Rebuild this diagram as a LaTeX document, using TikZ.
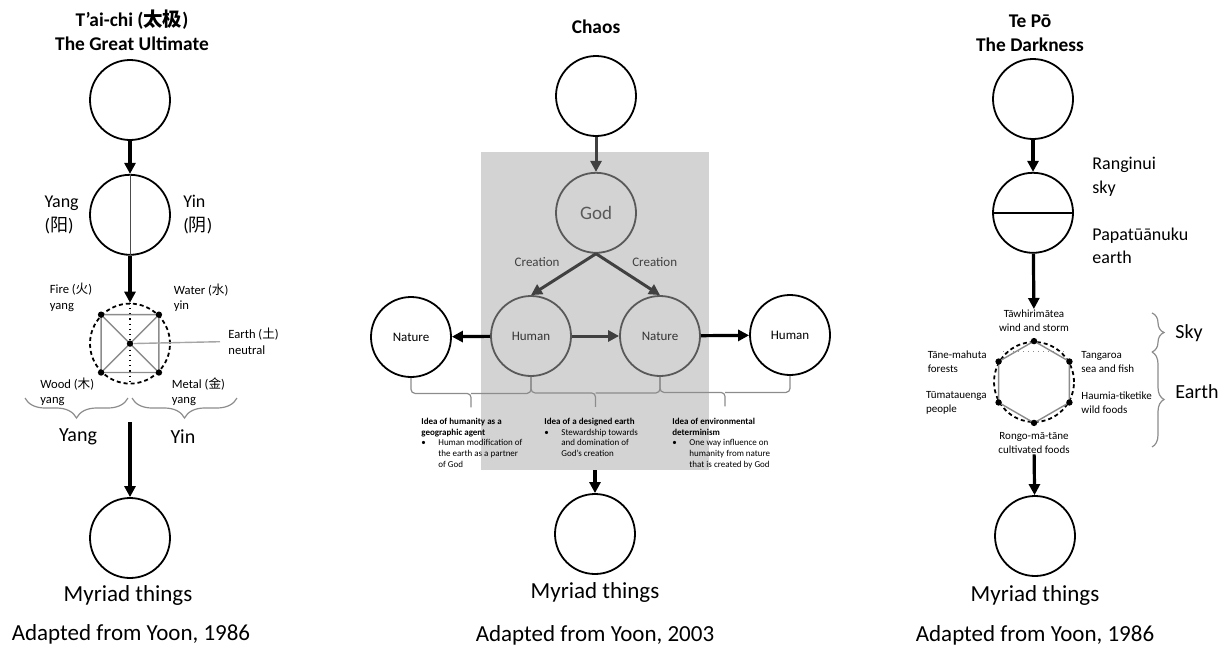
\documentclass[tikz,border=0pt]{standalone}
\usepackage{fontspec}
\setmainfont{Carlito}
\newfontfamily\cjk{Noto Sans CJK SC}
\usetikzlibrary{arrows.meta, positioning, calc, decorations.pathreplacing}
\definecolor{boxgray}{HTML}{D3D3D3}
\definecolor{inkgray}{HTML}{595959}
\definecolor{arrgray}{HTML}{404040}
\definecolor{linegray}{HTML}{8C8C8C}

\begin{document}
\begin{tikzpicture}[
  x=0.5pt, y=-0.5pt,
  blob/.style={circle, draw, line width=0.9pt, minimum size=40pt, inner sep=0pt,
    font=\fontsize{6.5}{8}\selectfont},
  godblob/.style={blob, draw=inkgray, fill=boxgray, text=black!80},
  arr/.style={-{Triangle[length=5.5pt,width=5.5pt]}, line width=1.6pt},
  garr/.style={arr, draw=arrgray, line width=1.5pt},
  dot/.style={circle, fill=black, inner sep=0pt, minimum size=3.2pt},
  ttl/.style={font=\fontsize{9.7}{12}\selectfont\bfseries, align=center, inner sep=0pt},
  lbl/.style={font=\fontsize{9}{11.8}\selectfont, align=left, inner sep=0pt},
  bigtxt/.style={font=\fontsize{11.5}{14}\selectfont, inner sep=0pt},
  elbl/.style={font=\fontsize{6.3}{7.8}\selectfont, align=left, inner sep=0pt},
  hlbl/.style={font=\fontsize{5.5}{7}\selectfont, align=left, inner sep=0pt},
  clbl/.style={font=\fontsize{6.5}{8}\selectfont, text=arrgray, inner sep=0pt},
  idea/.style={font=\fontsize{4.5}{5.3}\selectfont, align=left, inner sep=0pt, anchor=north west},
  arm/.style={draw=linegray, line width=0.6pt, rounded corners=2pt},
  brc/.style={draw=linegray, line width=0.6pt, decorate, decoration={brace, amplitude=#1}},
  brc/.default=6pt,
  mbrc/.style={draw=linegray, line width=0.6pt, decorate, decoration={brace, mirror, amplitude=10pt}}
]
\useasboundingbox (0,0) rectangle (1224,648);

% --- T'ai-chi ---
\node[ttl] (ttlL) at (132,30) {T’ai-chi ({\cjk 太极})\\The Great Ultimate};
\node[blob] (tc0) at (130,100) {};
\node[blob, below=16.5pt of tc0] (tc1) {};
\draw[line width=0.4pt, black!70] (tc1.north) -- (tc1.south);
\node[lbl, left=5pt of tc1] (yang) {Yang\\({\cjk 阳})};
\node[lbl, right=6pt of tc1] (yin) {Yin\\({\cjk 阴})};
\draw[arr] (tc0) -- (tc1);

\node[blob, dash pattern=on 2pt off 1.5pt, below=23.5pt of tc1] (wx) {};
\draw[arr] (tc1) -- (wx);
\draw[dotted, line width=0.6pt] (wx.north) -- (wx.south);
% square and diagonals first, dots on top
\draw[linegray, line width=0.7pt] (wx.135) -- (wx.45) -- (wx.315) -- (wx.225) -- cycle
  (wx.135) -- (wx.315) (wx.45) -- (wx.225);
\foreach \a/\n in {135/fire, 45/water, 225/wood, 315/metal}
  \node[dot] (\n) at (wx.\a) {};
\node[dot] (earthdot) at (wx.center) {};
\node[elbl, above left=0pt and 3pt of fire] (lfire) {Fire ({\cjk 火})\\yang};
\node[elbl, above right=0pt and 6pt of water] (lwater) {Water ({\cjk 水})\\yin};
\node[elbl, below left=1pt and 2pt of wood] (lwood) {Wood ({\cjk 木})\\yang};
\node[elbl, below right=1pt and 5pt of metal] (lmetal) {Metal ({\cjk 金})\\yang};
\node[elbl, anchor=west] (earth) at (228,341) {Earth ({\cjk 土})\\neutral};
\draw[black!35, line width=0.7pt, shorten >=4pt] (earthdot) -- (earth);

\draw[mbrc] (25,398) -- (128,398);
\draw[mbrc] (132,398) -- (237,398);
\node[bigtxt, font=\fontsize{10}{12}\selectfont] (yangB) at (78,437) {Yang};
\node[bigtxt, font=\fontsize{10}{12}\selectfont] (yinB) at (183,437) {Yin};
\coordinate (split) at (130,422);
\node[blob] (tc3) at (130,538) {};
\draw[arr] (split) -- (tc3);
\node[bigtxt] (myrL) at (128,595) {Myriad things};
\node[bigtxt] (srcL) at (131,634) {Adapted from Yoon, 1986};

% --- Chaos ---
\node[fill=boxgray, minimum width=114pt, minimum height=159pt, inner sep=0pt] (panel) at (595,311) {};
\node[ttl] (ttlM) at (596,27) {Chaos};
\node[blob] (c0) at (596,96) {};
\node[godblob, below=17.5pt of c0, font=\fontsize{9.5}{11}\selectfont, text=inkgray] (god) {God};
\draw[garr] (c0) -- (god);
\node[godblob] (hum) at (531,336) {Human};
\node[godblob] (nat) at (660,336) {Nature};
\node[blob] (natL) at (411,337) {Nature};
\node[blob] (humR) at (790,335) {Human};
\draw[garr] (god.south) -- node[clbl, pos=.2, left=11pt] {Creation} (hum.north);
\draw[garr] (god.south) -- node[clbl, pos=.2, right=11pt] {Creation} (nat.north);
\draw[arr] (hum) -- (natL);
\draw[garr] (hum) -- (nat);
\draw[arr] (nat) -- (humR);

\foreach \a/\b in {natL/hum, hum/nat, nat/humR} {
  \draw[arm] (\a.south) |- ($(\a.south)!.5!(\b.south)+(0,16)$) -- +(0,14);
  \draw[arm] (\b.south) |- ($(\a.south)!.5!(\b.south)+(0,16)$);
}

\node[idea] (idea1) at (421,418) {\textbf{Idea of humanity as a}\\\textbf{geographic agent}\\
  \begin{tabular}[t]{@{}p{8.5pt}@{}l@{}}\textbullet&Human modification of\\&the earth as a partner\\&of God\end{tabular}};
\node[idea] (idea2) at (544,418) {\textbf{Idea of a designed earth}\\
  \begin{tabular}[t]{@{}p{8.5pt}@{}l@{}}\textbullet&Stewardship towards\\&and domination of\\&God’s creation\end{tabular}};
\node[idea] (idea3) at (672,418) {\textbf{Idea of environmental}\\\textbf{determinism}\\
  \begin{tabular}[t]{@{}p{8.5pt}@{}l@{}}\textbullet&One way influence on\\&humanity from nature\\&that is created by God\end{tabular}};

\node[blob] (cb) at (595,534) {};
\draw[arr] (panel.south) -- (cb);
\node[bigtxt] (myrM) at (595,592) {Myriad things};
\node[bigtxt] (srcM) at (595,635) {Adapted from Yoon, 2003};

% --- Te Po ---
\node[ttl] (ttlR) at (1030,33) {Te Pō\\The Darkness};
\node[blob] (tp0) at (1033,99) {};
\node[blob, below=16pt of tp0] (tp1) {};
\draw[line width=0.8pt] (tp1.west) -- (tp1.east);
\draw[arr] (tp0) -- (tp1);
\node[lbl, anchor=west] (rangi) at (1092,177) {Ranginui\\sky};
\node[lbl, anchor=west] (papa) at (1092,246) {Papatūānuku\\earth};

\node[blob, dash pattern=on 2pt off 1.5pt] (hx) at (1034,382) {};
\draw[linegray, line width=0.7pt] (hx.90) -- (hx.30) -- (hx.-30) -- (hx.-90)
  -- (hx.210) -- (hx.150) -- cycle;
\foreach \a/\n in {90/tawhiri, 30/tangaroa, -30/haumia, -90/rongo, 210/tumata, 150/tane}
  \node[dot] (\n) at (hx.\a) {};
\draw[linegray, dotted, line width=0.5pt] ($(hx.center)+(-31,-31)$) -- ($(hx.center)+(31,-31)$);
\node[hlbl, align=center, above=3pt of tawhiri] (ltaw) {Tāwhirimātea\\wind and storm};
\node[hlbl, left=4pt of tane] (ltane) {Tāne-mahuta\\forests};
\node[hlbl, right=4pt of tangaroa] (ltanga) {Tangaroa\\sea and fish};
\node[hlbl, left=4pt of tumata] (ltuma) {Tūmatauenga\\people};
\node[hlbl, right=4pt of haumia] (lhaum) {Haumia-tiketike\\wild foods};
\node[hlbl, align=center, below=3pt of rongo] (lrongo) {Rongo-mā-tāne\\cultivated foods};
\draw[arr] (tp1) -- (ltaw);

\draw[brc] (1152,313) -- (1152,352);
\draw[brc] (1152,352) -- (1152,447);
\node[lbl, font=\fontsize{10}{12}\selectfont, anchor=west] (sky) at (1175,333) {Sky};
\node[lbl, font=\fontsize{10}{12}\selectfont, anchor=west] (earthR) at (1175,392) {Earth};

\node[blob] (tp3) at (1035,536) {};
\draw[arr] (lrongo) -- (tp3);
\node[bigtxt] (myrR) at (1035,595) {Myriad things};
\node[bigtxt] (srcR) at (1035,635) {Adapted from Yoon, 1986};
\end{tikzpicture}
\end{document}
